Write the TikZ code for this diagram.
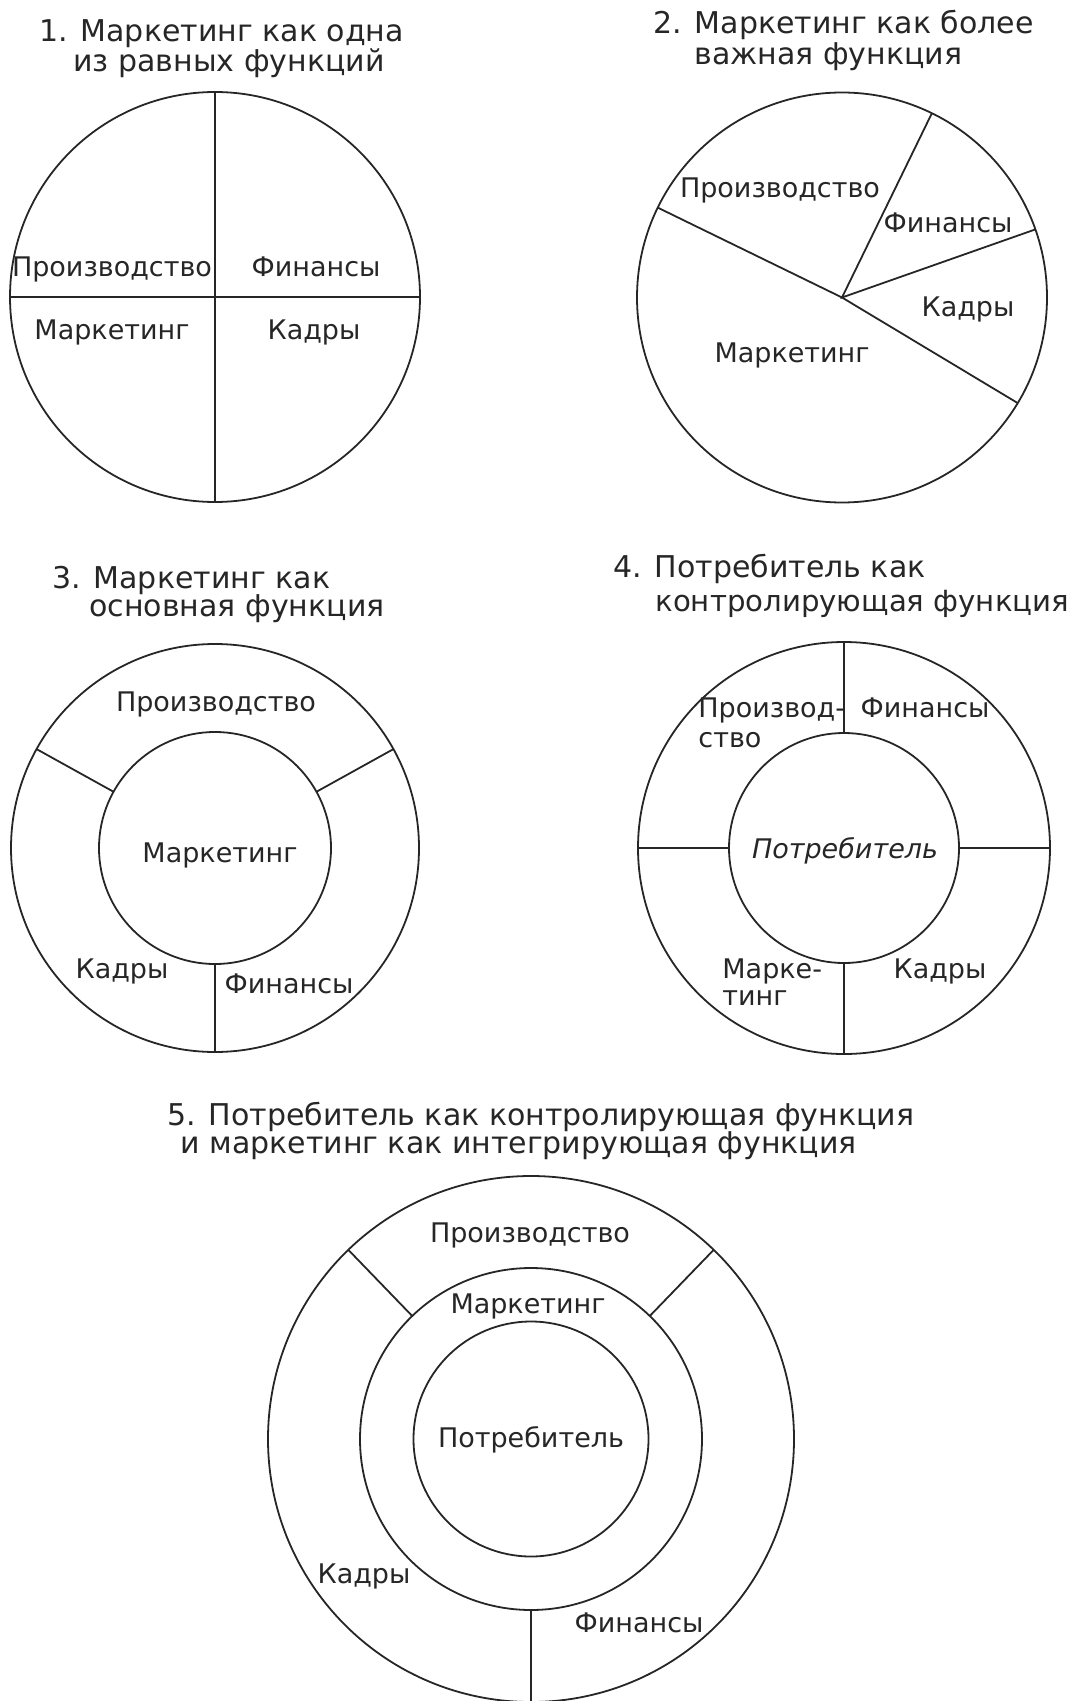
\documentclass[tikz,border=0pt]{standalone}
\usepackage{fontspec}
\setmainfont{DejaVu Sans}
\usetikzlibrary{calc}

\begin{document}
\begin{tikzpicture}[
    x=0.5pt, y=0.5pt,
    ring/.style={line width=0.9pt, black!85},
    heading/.style={anchor=base west, inner sep=0pt, text=black!85, font=\fontsize{15}{15}\selectfont},
    field/.style={anchor=base, inner sep=0pt, text=black!85, font=\fontsize{13.5}{14}\selectfont},
    fieldl/.style={field, anchor=base west}
]
\useasboundingbox (0,0) rectangle (1076,-1701);

% Centres of the five diagrams
\coordinate (c1) at (215,-297);
\coordinate (c2) at (842,-297.5);
\coordinate (c3) at (215,-848);
\coordinate (c4) at (844,-848);
\coordinate (c5) at (531,-1439);

% Diagram 1: equal functions
\node[heading] (t1a) at (39,-42) {1. Маркетинг как одна};
\node[heading] (t1b) at (73,-72) {из равных функций};
\draw[ring] (c1) circle[radius=205];
\draw[ring] ($(c1)+(90:205)$) -- ($(c1)+(-90:205)$);
\draw[ring] ($(c1)+(180:205)$) -- ($(c1)+(0:205)$);
\node[field] (p1) at (112,-277) {Производство};
\node[field] (f1) at (316,-277) {Финансы};
\node[field] (m1) at (112,-340) {Маркетинг};
\node[field] (k1) at (314,-340) {Кадры};

% Diagram 2: marketing as a more important function
\node[heading] (t2a) at (653,-34) {2. Маркетинг как более};
\node[heading] (t2b) at (694,-65) {важная функция};
\draw[ring] (c2) circle[radius=205];
\draw[ring] ($(c2)+(154:205)$) -- (c2) -- ($(c2)+(-31:205)$);
\draw[ring] ($(c2)+(64:205)$) -- (c2) -- ($(c2)+(19.4:205)$);
\node[field] (p2) at (780,-198) {Производство};
\node[field] (f2) at (948,-233) {Финансы};
\node[field] (k2) at (968,-317) {Кадры};
\node[field] (m2) at (792,-363) {Маркетинг};

% Diagram 3: marketing as the main function
\node[heading] (t3a) at (52,-588) {3. Маркетинг как};
\node[heading] (t3b) at (89,-616) {основная функция};
\draw[ring] (c3) circle[radius=204];
\draw[ring] (c3) circle[radius=116];
\draw[ring] ($(c3)+(151:116)$) -- ($(c3)+(151:204)$);
\draw[ring] ($(c3)+(29:116)$) -- ($(c3)+(29:204)$);
\draw[ring] ($(c3)+(-90:116)$) -- ($(c3)+(-90:204)$);
\node[field] (p3) at (216,-711) {Производство};
\node[field] (m3) at (220,-862) {Маркетинг};
\node[field] (k3) at (122,-978) {Кадры};
\node[field] (f3) at (289,-993) {Финансы};

% Diagram 4: the consumer as the controlling function
\node[heading] (t4a) at (613,-577) {4. Потребитель как};
\node[heading, font=\fontsize{14.6}{15}\selectfont] (t4b) at (655,-611) {контролирующая функция};
\draw[ring] (c4) circle[radius=206];
\draw[ring] (c4) circle[radius=115];
\draw[ring] ($(c4)+(90:115)$) -- ($(c4)+(90:206)$);
\draw[ring] ($(c4)+(180:115)$) -- ($(c4)+(180:206)$);
\draw[ring] ($(c4)+(0:115)$) -- ($(c4)+(0:206)$);
\draw[ring] ($(c4)+(-90:115)$) -- ($(c4)+(-90:206)$);
\node[fieldl] (p4a) at (698,-717) {Производ-};
\node[fieldl] (p4b) at (698,-747) {ство};
\node[field] (f4) at (925,-717) {Финансы};
\node[field, font=\fontsize{13.5}{14}\selectfont\itshape] (c4t) at (845,-858) {Потребитель};
\node[fieldl] (m4a) at (722,-978) {Марке-};
\node[fieldl] (m4b) at (722,-1005) {тинг};
\node[field] (k4) at (940,-978) {Кадры};

% Diagram 5: consumer controls, marketing integrates
\node[heading] (t5a) at (167,-1125) {5. Потребитель как контролирующая функция};
\node[heading] (t5b) at (180,-1153) {и маркетинг как интегрирующая функция};
\draw[ring] (c5) circle[radius=263];
\draw[ring] (c5) circle[radius=171];
\draw[ring] (c5) circle[radius=117.5];
\draw[ring] ($(c5)+(134:171)$) -- ($(c5)+(134:263)$);
\draw[ring] ($(c5)+(46:171)$) -- ($(c5)+(46:263)$);
\draw[ring] ($(c5)+(-90:171)$) -- ($(c5)+(-90:263)$);
\node[field] (p5) at (530,-1242) {Производство};
\node[field] (m5) at (528,-1313) {Маркетинг};
\node[field] (c5t) at (531,-1447) {Потребитель};
\node[field] (k5) at (364,-1583) {Кадры};
\node[field] (f5) at (639,-1632) {Финансы};

\end{tikzpicture}
\end{document}
